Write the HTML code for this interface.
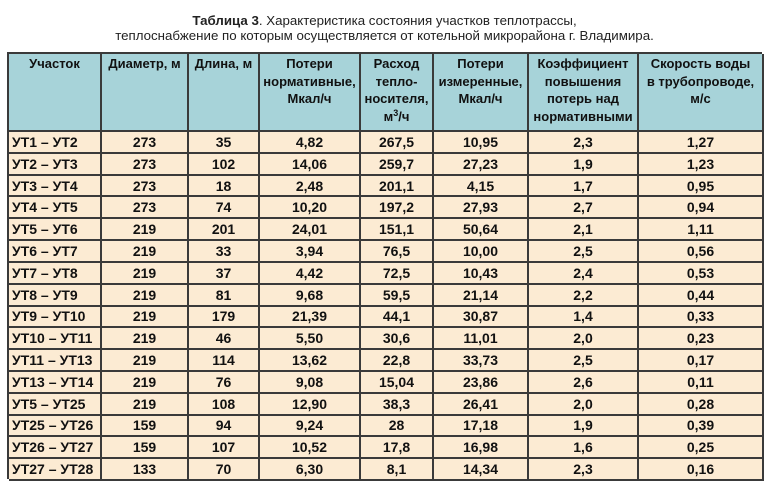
<!DOCTYPE html>
<html><head><meta charset="utf-8"><style>
html,body{margin:0;padding:0;background:#fff;}
body{width:780px;height:501px;position:relative;overflow:hidden;font-family:"Liberation Sans",Arial,sans-serif;}
.title{position:absolute;left:0;top:13px;width:769px;text-align:center;font-size:13.3px;line-height:15px;color:#222;}
.title b{font-weight:bold;}
.grid{position:absolute;left:7px;top:52px;width:755px;height:427px;display:grid;
grid-template-columns:93px 87px 71px 101px 73px 95px 110px 125px;
grid-template-rows:78px repeat(16,21.8125px);
box-sizing:border-box;border-left:2px solid #3a3a3a;border-top:2px solid #3a3a3a;}
.grid>div{box-sizing:border-box;border-right:2px solid #3a3a3a;border-bottom:2px solid #3a3a3a;
background:#fcebd3;font-weight:bold;font-size:14px;color:#111;display:flex;align-items:center;justify-content:center;white-space:nowrap;}
.grid>div.h{background:#a7d3d9;font-size:13px;line-height:17.7px;display:block;padding-top:1px;text-align:center;}
.grid>div.l{justify-content:flex-start;padding-left:3px;}
sup{font-size:9px;line-height:0;vertical-align:5px;}
</style></head><body>
<div class="title"><b>Таблица 3</b>. Характеристика состояния участков теплотрассы,<br>теплоснабжение по которым осуществляется от котельной микрорайона г. Владимира.</div>
<div class="grid">
<div class="h">Участок</div><div class="h">Диаметр, м</div><div class="h">Длина, м</div><div class="h">Потери<br>нормативные,<br>Мкал/ч</div><div class="h">Расход<br>тепло-<br>носителя,<br>м<sup>3</sup>/ч</div><div class="h">Потери<br>измеренные,<br>Мкал/ч</div><div class="h">Коэффициент<br>повышения<br>потерь над<br>нормативными</div><div class="h">Скорость воды<br>в трубопроводе,<br>м/с</div>
<div class="l">УТ1 – УТ2</div><div>273</div><div>35</div><div>4,82</div><div>267,5</div><div>10,95</div><div>2,3</div><div>1,27</div>
<div class="l">УТ2 – УТ3</div><div>273</div><div>102</div><div>14,06</div><div>259,7</div><div>27,23</div><div>1,9</div><div>1,23</div>
<div class="l">УТ3 – УТ4</div><div>273</div><div>18</div><div>2,48</div><div>201,1</div><div>4,15</div><div>1,7</div><div>0,95</div>
<div class="l">УТ4 – УТ5</div><div>273</div><div>74</div><div>10,20</div><div>197,2</div><div>27,93</div><div>2,7</div><div>0,94</div>
<div class="l">УТ5 – УТ6</div><div>219</div><div>201</div><div>24,01</div><div>151,1</div><div>50,64</div><div>2,1</div><div>1,11</div>
<div class="l">УТ6 – УТ7</div><div>219</div><div>33</div><div>3,94</div><div>76,5</div><div>10,00</div><div>2,5</div><div>0,56</div>
<div class="l">УТ7 – УТ8</div><div>219</div><div>37</div><div>4,42</div><div>72,5</div><div>10,43</div><div>2,4</div><div>0,53</div>
<div class="l">УТ8 – УТ9</div><div>219</div><div>81</div><div>9,68</div><div>59,5</div><div>21,14</div><div>2,2</div><div>0,44</div>
<div class="l">УТ9 – УТ10</div><div>219</div><div>179</div><div>21,39</div><div>44,1</div><div>30,87</div><div>1,4</div><div>0,33</div>
<div class="l">УТ10 – УТ11</div><div>219</div><div>46</div><div>5,50</div><div>30,6</div><div>11,01</div><div>2,0</div><div>0,23</div>
<div class="l">УТ11 – УТ13</div><div>219</div><div>114</div><div>13,62</div><div>22,8</div><div>33,73</div><div>2,5</div><div>0,17</div>
<div class="l">УТ13 – УТ14</div><div>219</div><div>76</div><div>9,08</div><div>15,04</div><div>23,86</div><div>2,6</div><div>0,11</div>
<div class="l">УТ5 – УТ25</div><div>219</div><div>108</div><div>12,90</div><div>38,3</div><div>26,41</div><div>2,0</div><div>0,28</div>
<div class="l">УТ25 – УТ26</div><div>159</div><div>94</div><div>9,24</div><div>28</div><div>17,18</div><div>1,9</div><div>0,39</div>
<div class="l">УТ26 – УТ27</div><div>159</div><div>107</div><div>10,52</div><div>17,8</div><div>16,98</div><div>1,6</div><div>0,25</div>
<div class="l">УТ27 – УТ28</div><div>133</div><div>70</div><div>6,30</div><div>8,1</div><div>14,34</div><div>2,3</div><div>0,16</div>
</div>
</body></html>
